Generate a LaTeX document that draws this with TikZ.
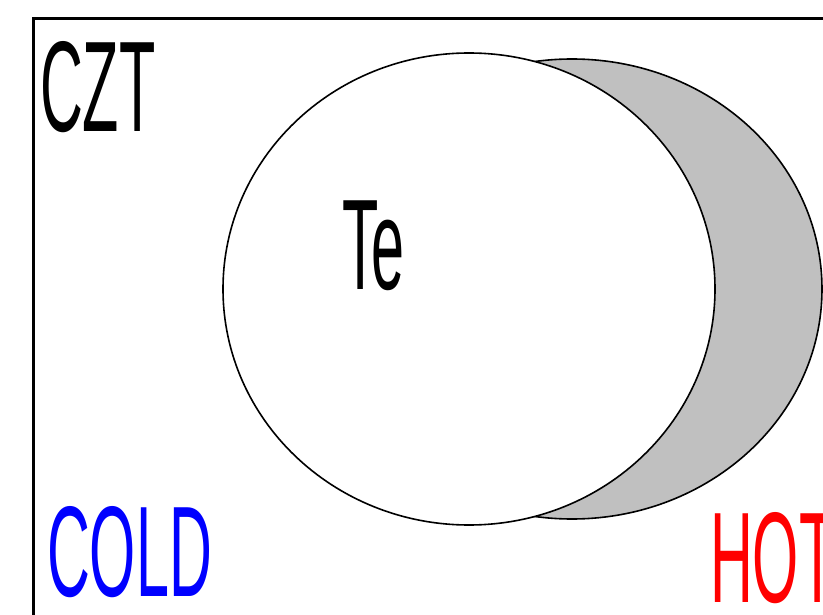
\documentclass[tikz,border=0pt]{standalone}
\usepackage{fontspec}
\setmainfont{Liberation Sans}
\definecolor{crescent}{RGB}{192,192,192}
\definecolor{coldblue}{RGB}{0,0,255}
\definecolor{hotred}{RGB}{255,0,0}
\begin{document}
\begin{tikzpicture}[x=1pt,y=-1pt,
  lbl/.style={anchor=base west,inner sep=0pt,text depth=0pt,xscale=0.46,font=\fontsize{129}{129}\selectfont},
  outline/.style={line width=1.6pt}]
\useasboundingbox (0,0) rectangle (823,615);
\clip (0,0) rectangle (823,615);
\fill[white] (0,0) rectangle (823,615);
% frame
\draw[line width=2.4pt] (33.5,630) -- (33.5,18.5) -- (840,18.5);
% crescent (outer ellipse)
\draw[outline,fill=crescent] (572,289) ellipse [x radius=250, y radius=230];
% Te ellipse
\draw[outline,fill=white] (469,289) ellipse [x radius=246, y radius=236];
% labels
\node[lbl] (czt) at (40,132) {CZT};
\node[lbl] (te) at (342,290) {Te};
\node[lbl,text=coldblue] (cold) at (47,596) {COLD};
\node[lbl,text=hotred] (hot) at (710,602) {HOT};
\end{tikzpicture}
\end{document}
